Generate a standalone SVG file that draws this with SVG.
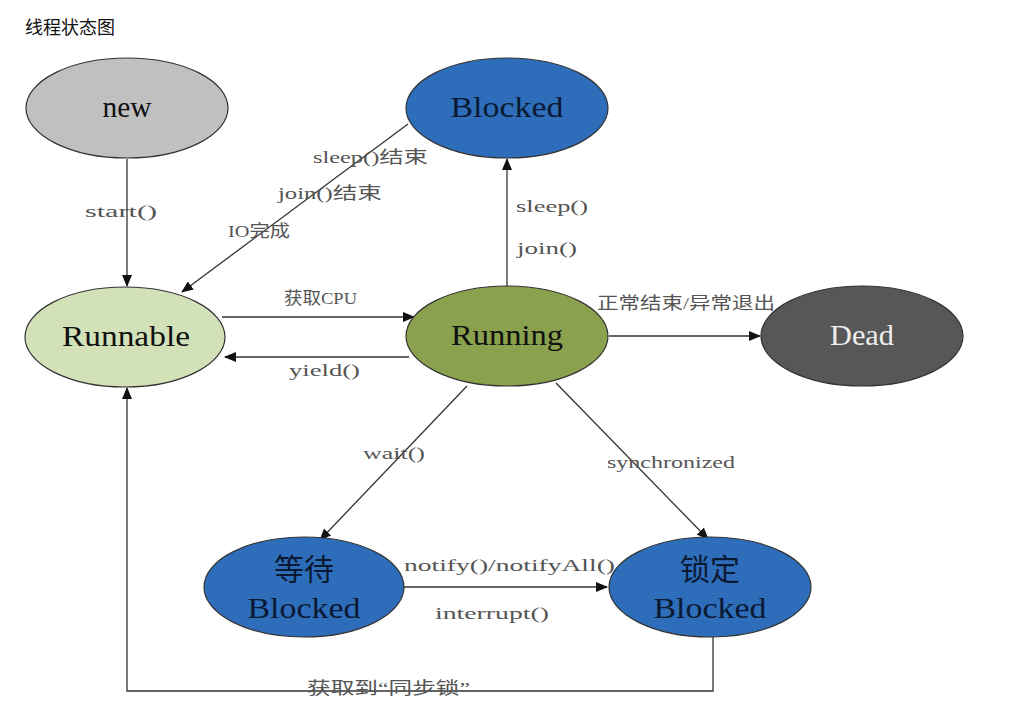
<svg xmlns="http://www.w3.org/2000/svg" width="1018" height="710" viewBox="0 0 1018 710">
<defs>
<marker id="arr" markerWidth="12" markerHeight="10" refX="11" refY="5" orient="auto" markerUnits="userSpaceOnUse">
<path d="M0,0 L12,5 L0,10 Z" fill="#111"/>
</marker>
<style>
.node{stroke:#333;stroke-width:1.2}
.nt{font-family:"Liberation Serif","Noto Sans CJK SC",serif;font-size:29px;text-anchor:middle}
.lbl{font-family:"Liberation Serif","Noto Sans CJK SC",serif;font-size:17px;fill:#555}
.edge{stroke:#333;stroke-width:1.3;fill:none;marker-end:url(#arr)}
</style>
</defs>
<rect width="1018" height="710" fill="#fff"/>
<text x="25" y="34" font-family="'Noto Sans CJK SC',sans-serif" font-size="18" fill="#111">线程状态图</text>

<g id="connectors">
<line class="edge" x1="127" y1="159" x2="127" y2="286"/>
<line class="edge" x1="408" y1="124" x2="182" y2="292"/>
<line class="edge" x1="507" y1="286" x2="507" y2="159"/>
<line class="edge" x1="222" y1="317" x2="414" y2="317"/>
<line class="edge" x1="409" y1="357" x2="225" y2="357"/>
<line class="edge" x1="609" y1="336" x2="760" y2="336"/>
<line class="edge" x1="467" y1="386" x2="320" y2="540"/>
<line class="edge" x1="556" y1="383" x2="708" y2="539"/>
<line class="edge" x1="404" y1="587" x2="607" y2="587"/>
<polyline class="edge" points="713,637 713,691 127,691 127,388"/>
<text class="lbl" x="85" y="217" textLength="72" lengthAdjust="spacingAndGlyphs">start()</text>
<text class="lbl" x="313" y="163" textLength="115" lengthAdjust="spacingAndGlyphs">sleep()结束</text>
<text class="lbl" x="278" y="199" textLength="104" lengthAdjust="spacingAndGlyphs">join()结束</text>
<text class="lbl" x="228" y="237" textLength="62" lengthAdjust="spacingAndGlyphs">IO完成</text>
<text class="lbl" x="516" y="212" textLength="72" lengthAdjust="spacingAndGlyphs">sleep()</text>
<text class="lbl" x="517" y="254" textLength="60" lengthAdjust="spacingAndGlyphs">join()</text>
<text class="lbl" x="284" y="304" textLength="73" lengthAdjust="spacingAndGlyphs">获取CPU</text>
<text class="lbl" x="289" y="376" textLength="71" lengthAdjust="spacingAndGlyphs">yield()</text>
<text class="lbl" x="597" y="309" textLength="178" lengthAdjust="spacingAndGlyphs">正常结束/异常退出</text>
<text class="lbl" x="363" y="459" textLength="62" lengthAdjust="spacingAndGlyphs">wait()</text>
<text class="lbl" x="607" y="468" textLength="128" lengthAdjust="spacingAndGlyphs">synchronized</text>
<text class="lbl" x="404" y="571" textLength="211" lengthAdjust="spacingAndGlyphs">notify()/notifyAll()</text>
<text class="lbl" x="435" y="619" textLength="114" lengthAdjust="spacingAndGlyphs">interrupt()</text>
<text class="lbl" x="307" y="694" textLength="163" lengthAdjust="spacingAndGlyphs">获取到“同步锁”</text>
</g>

<g id="node-new">
<ellipse class="node" cx="127" cy="108" rx="101" ry="50" fill="#c0c0c0"/>
<text class="nt" x="127" y="117" fill="#111" textLength="49" lengthAdjust="spacingAndGlyphs">new</text>
</g>
<g id="node-blocked">
<ellipse class="node" cx="507" cy="108" rx="101" ry="50" fill="#2e6dba"/>
<text class="nt" x="507" y="117" fill="#0b1a33" textLength="113" lengthAdjust="spacingAndGlyphs">Blocked</text>
</g>
<g id="node-runnable">
<ellipse class="node" cx="125" cy="337" rx="100" ry="50" fill="#d3e1b8"/>
<text class="nt" x="126" y="346" fill="#111" textLength="128" lengthAdjust="spacingAndGlyphs">Runnable</text>
</g>
<g id="node-running">
<ellipse class="node" cx="507" cy="336" rx="101" ry="50" fill="#8aa14e"/>
<text class="nt" x="507" y="345" fill="#111" textLength="112" lengthAdjust="spacingAndGlyphs">Running</text>
</g>
<g id="node-dead">
<ellipse class="node" cx="862" cy="336" rx="101" ry="50" fill="#575757"/>
<text class="nt" x="862" y="345" fill="#eee" textLength="64" lengthAdjust="spacingAndGlyphs">Dead</text>
</g>
<g id="node-waiting">
<ellipse class="node" cx="304" cy="587" rx="100" ry="50" fill="#2e6dba"/>
<text x="304" y="580" font-family="'Noto Sans CJK SC',sans-serif" font-size="30" text-anchor="middle" fill="#0b1a33">等待</text>
<text class="nt" x="304" y="618" fill="#0b1a33" textLength="113" lengthAdjust="spacingAndGlyphs">Blocked</text>
</g>
<g id="node-locked">
<ellipse class="node" cx="710" cy="587" rx="101" ry="50" fill="#2e6dba"/>
<text x="710" y="580" font-family="'Noto Sans CJK SC',sans-serif" font-size="30" text-anchor="middle" fill="#0b1a33">锁定</text>
<text class="nt" x="710" y="618" fill="#0b1a33" textLength="113" lengthAdjust="spacingAndGlyphs">Blocked</text>
</g>
</svg>
